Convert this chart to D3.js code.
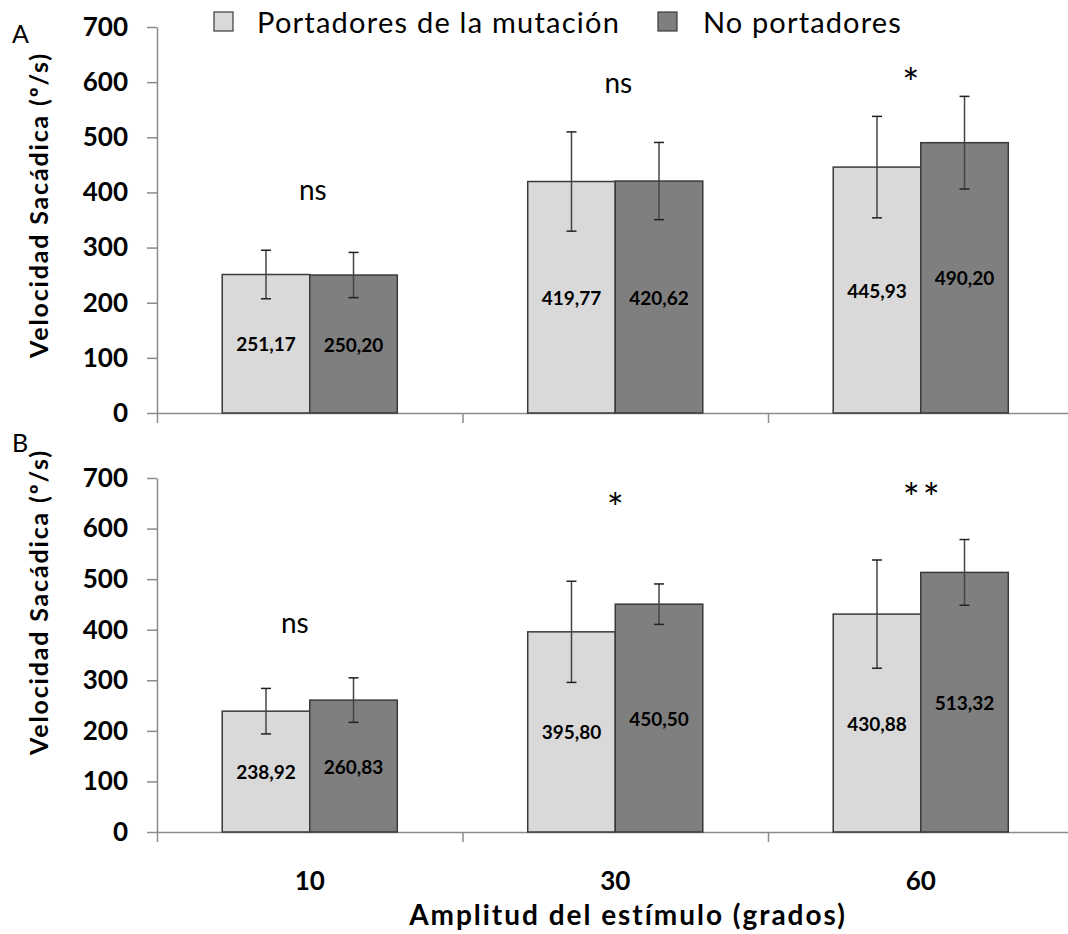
<!DOCTYPE html>
<html>
<head>
<meta charset="utf-8">
<script src="https://cdn.jsdelivr.net/npm/d3@7"></script>
<style>
  html, body { margin: 0; padding: 0; background: #fff; }
  svg { display: block; }
  text { font-family: Lato, "Open Sans", sans-serif; fill: #000; }
</style>
</head>
<body>
<svg id="chart" width="1068" height="934"></svg>
<script>
// ---------- data ----------
const categories = ["10", "30", "60"];
const seriesNames = ["Portadores de la mutación", "No portadores"];
const yTicks = [0, 100, 200, 300, 400, 500, 600, 700];

const panelA_carriers      = [251.17, 419.77, 445.93];
const panelA_nonCarriers   = [250.20, 420.62, 490.20];
const panelA_carriersErr   = [44, 90, 92];
const panelA_nonCarriersErr= [41, 70, 84];
const panelA_sig           = ["ns", "ns", "*"];
const panelA_sigLevel      = [386, 581, 571];

const panelB_carriers      = [238.92, 395.80, 430.88];
const panelB_nonCarriers   = [260.83, 450.50, 513.32];
const panelB_carriersErr   = [45, 100, 107];
const panelB_nonCarriersErr= [44, 40, 65];
const panelB_sig           = ["ns", "*", "**"];
const panelB_sigLevel      = [394, 612, 630];

const xTitle = "Amplitud del estímulo (grados)";
const yTitle = "Velocidad Sacádica (º/s)";

// ---------- layout ----------
const left = 157, right = 1073.5;
const colors = ["#d9d9d9", "#7f7f7f"];
const axisColor = "#8c8c8c";
const panels = [
  { label: "A", top: 27, bottom: 413, labelY: 43, titleY: 205,
    vals: [panelA_carriers, panelA_nonCarriers],
    errs: [panelA_carriersErr, panelA_nonCarriersErr],
    sig: panelA_sig, sigLevel: panelA_sigLevel, sigDx: [3, 3, -10] },
  { label: "B", top: 478, bottom: 832, labelY: 452, titleY: 602,
    vals: [panelB_carriers, panelB_nonCarriers],
    errs: [panelB_carriersErr, panelB_nonCarriersErr],
    sig: panelB_sig, sigLevel: panelB_sigLevel, sigDx: [-15, 0, 2] }
];

// scale a text's font size so that it spans the wanted width
function fitText(node, width) {
  const len = node.getComputedTextLength();
  const fs = parseFloat(node.getAttribute("font-size"));
  if (len > 0) node.setAttribute("font-size", (fs * width / len).toFixed(2));
}
// widen a text by letter spacing so that it spans the wanted width
function fitSpacing(node, width) {
  const len = node.getComputedTextLength();
  const n = node.textContent.length;
  if (len > 0 && n > 1) node.setAttribute("letter-spacing", ((width - len) / n).toFixed(2));
}

const svg = d3.select("#chart");

const x0 = d3.scaleBand().domain(categories).range([left, right]).padding(0);
const x1 = d3.scaleBand().domain(d3.range(seriesNames.length))
  .range([0, x0.bandwidth()]).paddingInner(0).paddingOuter(0.745);
const xSep = d3.scaleLinear().domain([0, categories.length]).range([left, right]);

panels.forEach(p => {
  const y = d3.scaleLinear().domain([0, 700]).range([p.bottom, p.top]);
  const g = svg.append("g");

  // y axis
  const yAxis = g.append("g")
    .attr("transform", `translate(${left},0)`)
    .call(d3.axisLeft(y).tickValues(yTicks).tickSize(10).tickSizeOuter(0).tickPadding(19));
  yAxis.selectAll("path, line").attr("stroke", axisColor).attr("stroke-width", 1.5);
  yAxis.selectAll("text")
    .attr("font-family", "Lato, sans-serif")
    .attr("font-weight", "bold").attr("font-size", 26).attr("fill", "#000");

  // x axis with separators at band boundaries
  const xAxis = g.append("g")
    .attr("transform", `translate(0,${p.bottom})`)
    .call(d3.axisBottom(xSep).tickValues(d3.range(categories.length + 1))
      .tickFormat("").tickSize(10).tickSizeOuter(0));
  xAxis.selectAll("path, line").attr("stroke", axisColor).attr("stroke-width", 1.5);

  // bars
  const groups = g.append("g").selectAll("g").data(categories).join("g")
    .attr("transform", c => `translate(${x0(c)},0)`);

  groups.each(function(c, ci) {
    const gg = d3.select(this);
    seriesNames.forEach((s, si) => {
      const v = p.vals[si][ci];
      const e = p.errs[si][ci];
      const bx = x1(si), bw = x1.bandwidth();
      gg.append("rect")
        .attr("x", bx).attr("y", y(v))
        .attr("width", bw).attr("height", y(0) - y(v))
        .attr("fill", colors[si]).attr("stroke", "#3a3a3a").attr("stroke-width", 1.5);
      // error bar
      const cx = bx + bw / 2;
      gg.append("line").attr("x1", cx).attr("x2", cx)
        .attr("y1", y(v + e)).attr("y2", y(v - e))
        .attr("stroke", "#444").attr("stroke-width", 1.5);
      [v + e, v - e].forEach(t => {
        gg.append("line").attr("x1", cx - 5).attr("x2", cx + 5)
          .attr("y1", y(t)).attr("y2", y(t))
          .attr("stroke", "#222").attr("stroke-width", 1.5);
      });
      // value label
      gg.append("text")
        .attr("x", cx).attr("y", (y(v) + y(0)) / 2)
        .attr("text-anchor", "middle").attr("dominant-baseline", "central")
        .attr("font-weight", "bold").attr("font-size", 19)
        .text(d3.format(".2f")(v).replace(".", ","));
    });
  });

  // significance labels
  g.append("g").selectAll("text").data(categories).join("text")
    .attr("x", (c, i) => x0(c) + x0.bandwidth() / 2 + p.sigDx[i])
    .attr("y", (c, i) => y(p.sigLevel[i]))
    .attr("text-anchor", "middle")
    .attr("font-size", (c, i) => p.sig[i].startsWith("*") ? 40 : 28)
    .attr("letter-spacing", (c, i) => p.sig[i] === "**" ? 3 : 0)
    .text((c, i) => p.sig[i]);

  // panel label
  g.append("text").attr("x", 12).attr("y", p.labelY)
    .attr("font-size", 25).text(p.label);

  // y title
  g.append("text")
    .attr("transform", `translate(48,${p.titleY}) rotate(-90)`)
    .attr("text-anchor", "middle")
    .attr("font-weight", "bold").attr("font-size", 25)
    .text(yTitle)
    .each(function() { fitSpacing(this, 306); });
});

// x category labels
svg.append("g").selectAll("text").data(categories).join("text")
  .attr("x", c => x0(c) + x0.bandwidth() / 2)
  .attr("y", 890)
  .attr("text-anchor", "middle")
  .attr("font-weight", "bold").attr("font-size", 26)
  .text(c => c);

// x title
svg.append("text")
  .attr("x", 628).attr("y", 925)
  .attr("text-anchor", "middle")
  .attr("font-weight", "bold").attr("font-size", 28)
  .text(xTitle)
  .each(function() { fitSpacing(this, 438); });

// legend
const legendX = [214, 658];
const legendW = [363, 199];
const legend = svg.append("g").selectAll("g").data(seriesNames).join("g")
  .attr("transform", (d, i) => `translate(${legendX[i]},12)`);
legend.append("rect").attr("width", 19).attr("height", 19)
  .attr("fill", (d, i) => colors[i]).attr("stroke", "#3a3a3a").attr("stroke-width", 1.2);
legend.append("text").attr("x", (d, i) => i === 0 ? 43 : 45).attr("y", 21)
  .attr("font-size", 29).text(d => d)
  .each(function(d, i) { fitSpacing(this, legendW[i]); });
</script>
</body>
</html>
